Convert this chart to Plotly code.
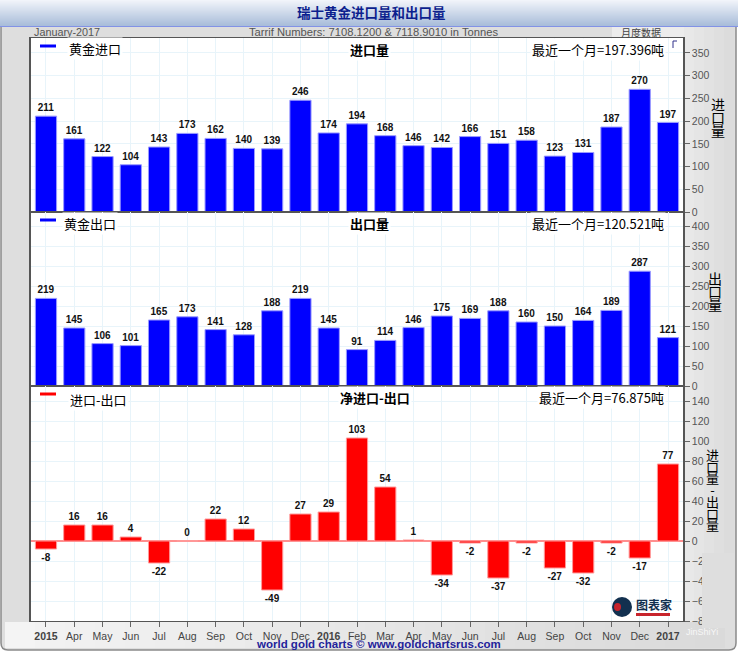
import plotly.graph_objects as go
from plotly.subplots import make_subplots

W, H = 738, 653

months = ["<b>2015</b>", "Apr", "May", "Jun", "Jul", "Aug", "Sep", "Oct", "Nov", "Dec",
          "<b>2016</b>", "Feb", "Mar", "Apr", "May", "Jun", "Jul", "Aug", "Sep", "Oct", "Nov", "Dec",
          "<b>2017</b>"]
imports = [211, 161, 122, 104, 143, 173, 162, 140, 139, 246, 174, 194,
           168, 146, 142, 166, 151, 158, 123, 131, 187, 270, 197]
exports = [219, 145, 106, 101, 165, 173, 141, 128, 188, 219, 145, 91,
           114, 146, 175, 169, 188, 160, 150, 164, 189, 287, 121]
net = [-8, 16, 16, 4, -22, 0, 22, 12, -49, 27, 29, 103,
       54, 1, -34, -2, -37, -2, -27, -32, -2, -17, 77]
import_ticks = list(range(0, 351, 50))
export_ticks = list(range(0, 401, 50))
net_ticks = list(range(-80, 141, 20))

LABEL_FONT = "Liberation Sans"
CJK = "Noto Sans CJK SC"


def px(x):
    return x / W


def py(y):
    return 1 - y / H


x = list(range(len(months)))
fig = make_subplots(rows=3, cols=1, shared_xaxes=True, vertical_spacing=0)

for row, vals, color, edge in [(1, imports, "#0000ff", "#9a9aff"),
                               (2, exports, "#0000ff", "#9a9aff"),
                               (3, net, "#ff0000", "#ff9a9a")]:
    fig.add_trace(go.Bar(x=x, y=vals, width=0.75,
                         marker=dict(color=color, line=dict(color=edge, width=1)),
                         text=[str(v) for v in vals], textposition="outside",
                         textangle=0, cliponaxis=False, constraintext="none",
                         textfont=dict(family=LABEL_FONT, size=10, color="#111111", weight="bold"),
                         showlegend=False), row=row, col=1)

grid_style = dict(showline=True, linecolor="#555555", mirror=True, automargin=False,
                  gridcolor="#e8f4fa", gridwidth=1, showgrid=True)
ytick_style = dict(side="right", ticks="outside", ticklen=5, tickcolor="#666666", tickwidth=1,
                   tickfont=dict(family=LABEL_FONT, size=10.5, color="#555555"))

domains = [(py(212), py(38)), (py(386), py(212)), (py(621), py(386))]
ranges = [(0, 383), (0, 435), (-80, 155)]
tick_lists = [import_ticks, export_ticks, net_ticks]
for i in range(3):
    fig.update_yaxes(domain=domains[i], range=ranges[i], tickmode="array", tickvals=tick_lists[i],
                     zeroline=(i == 2), zerolinecolor="#ff8f8f", zerolinewidth=2, linewidth=1.5,
                     row=i + 1, col=1, **grid_style, **ytick_style)
    fig.update_xaxes(domain=[px(31), px(683)], range=[-0.53, 22.53], tickmode="array", tickvals=x,
                     linewidth=1, row=i + 1, col=1, **grid_style)
fig.update_xaxes(ticktext=months, ticks="outside", ticklen=5, tickcolor="#666666", showticklabels=True,
                 tickangle=0, tickfont=dict(family=LABEL_FONT, size=10.5, color="#444444"), row=3, col=1)

# page furniture: header, grey frame, strips
shapes = []


def rect(x0, y0, x1, y1, color, layer="below"):
    shapes.append(dict(type="rect", xref="paper", yref="paper", x0=px(x0), x1=px(x1),
                       y0=py(y0), y1=py(y1), fillcolor=color, line_width=0, layer=layer))


shapes.append(dict(type="path", xref="paper", yref="paper", layer="below",
                   path=f"M {px(1)} {py(26)} L {px(1)} {py(643)} Q {px(1)} {py(650)} {px(8)} {py(650)} "
                        f"L {px(729)} {py(650)} Q {px(736)} {py(650)} {px(736)} {py(643)} L {px(736)} {py(26)} Z",
                   fillcolor="#dedede", line=dict(color="#8a8a8a", width=1.5)))
for i in range(26):
    t = i / 25
    rect(0, i, W, i + 1, f"rgb({int(241 - 72 * t)},{int(244 - 55 * t)},{int(250 - 32 * t)})")
rect(0, 26, W, 27, "#8292e6")
rect(612, 27, 687, 38, "#ececec")
rect(30, 38, 684, 621, "#ffffff")
# bottom strip and right strip shading
for i in range(24):
    t = i / 23
    g = int(244 - 26 * t)
    rect(5 + i * 30, 622, 5 + (i + 1) * 30, 648, f"rgb({g},{g},{g})")
for i in range(5):
    g = 232 - i * 3
    rect(684 + i * 10, 27, 694 + i * 10, 622, f"rgb({g},{g},{g})")
rect(702, 553, 735, 628, "#dedede", layer="above")

# legend swatches
for yy, color in [(46, "#0000ff"), (220, "#0000ff"), (394, "#ff0000")]:
    shapes.append(dict(type="line", xref="paper", yref="paper", x0=px(40), x1=px(56),
                       y0=py(yy), y1=py(yy), line=dict(color=color, width=3)))
# small corner mark
shapes.append(dict(type="path", xref="paper", yref="paper",
                   path=f"M {px(673)} {py(48)} L {px(673)} {py(41)} L {px(677)} {py(41)}",
                   line=dict(color="#30308a", width=1)))
# logo
shapes.append(dict(type="circle", xref="paper", yref="paper", x0=px(612), x1=px(632),
                   y0=py(617), y1=py(597), fillcolor="#12304f", line_width=0))
shapes.append(dict(type="circle", xref="paper", yref="paper", x0=px(614), x1=px(621),
                   y0=py(611), y1=py(603), fillcolor="#c8242c", line_width=0))
rect(636, 613, 670, 616, "#c8242c", layer="above")


def label(text, xp, yp, size=13, color="#000000", anchor="center", font=CJK, bg=None, bold=False, pad=1):
    if bold:
        text = f"<b>{text}</b>"
    fig.add_annotation(text=text, xref="paper", yref="paper", x=px(xp), y=py(yp), showarrow=False,
                       xanchor=anchor, yanchor="middle", font=dict(family=font, size=size, color=color),
                       bgcolor=bg, borderpad=pad)


label("瑞士黄金进口量和出口量", 371, 12, size=13.5, color="#0c1f8e", bold=True)
label("January-2017", 32, 32, size=10.8, color="#555555", anchor="left", font=LABEL_FONT)
label("Tarrif Numbers: 7108.1200 &amp; 7118.9010 in Tonnes", 373, 32, size=11.2, color="#555555", font=LABEL_FONT)
label("月度数据", 641, 32, size=10, color="#444444")

label("黄金进口", 95, 48, bg="#ffffff")
label("进口量", 370, 49, bg="#ffffff", bold=True)
label("最近一个月=197.396吨", 666, 49, anchor="right", bg="#ffffff")
label("黄金出口", 90, 223, bg="#ffffff")
label("出口量", 370, 223, bg="#ffffff", bold=True)
label("最近一个月=120.521吨", 666, 223, anchor="right", bg="#ffffff")
label("进口-出口", 98, 399, bg="#ffffff")
label("净进口-出口", 375, 397, bg="#ffffff", bold=True)
label("最近一个月=76.875吨", 666, 397, anchor="right", bg="#ffffff")


# stacked right-hand titles: tight line pitch comes from the small base size
def stacked(txt, xp, yp, base, glyph):
    body = "<br>".join(f'<span style="font-size:{glyph}px">{ch}</span>' for ch in txt)
    label(body, xp, yp, size=base, pad=0)


stacked("进口量", 718, 117, 10, 14)
stacked("出口量", 715, 291, 10, 14)
stacked("进口量-出口量", 712, 489, 9, 13)

label("图表家", 654, 604, size=12, color="#12304f", bold=True)
label("world gold charts © www.goldchartsrus.com", 378, 644, size=11.5, color="#23239a",
      font=LABEL_FONT, bold=True, pad=0)
label("JinShiYi", 702, 632, size=9, color="rgba(255,255,255,0.8)", font=LABEL_FONT)

fig.update_layout(width=W, height=H, margin=dict(l=0, r=0, t=0, b=0), autosize=False,
                  paper_bgcolor="#ffffff", plot_bgcolor="rgba(0,0,0,0)", bargap=0.25,
                  shapes=shapes, font=dict(family=LABEL_FONT))

fig.write_html("out.html", config=dict(displayModeBar=False),
               post_script="document.body.style.margin='0';document.body.style.overflow='hidden';")
